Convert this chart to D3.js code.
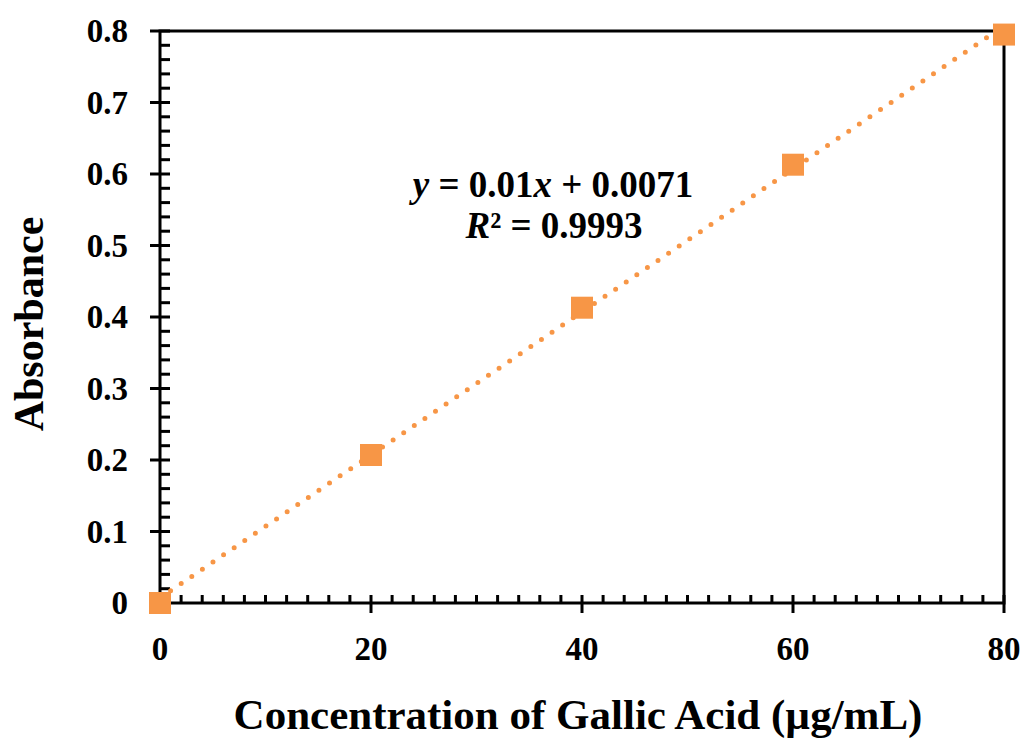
<!DOCTYPE html>
<html>
<head>
<meta charset="utf-8">
<script src="https://cdn.jsdelivr.net/npm/d3@7"></script>
<style>
  body { margin: 0; background: #fff; }
  text { font-family: "Liberation Serif", "Times New Roman", serif; font-weight: bold; }
</style>
</head>
<body>
<div id="chart"></div>
<script>
// data
const concentration = [0, 20, 40, 60, 80];
const absorbance = [0, 0.207, 0.413, 0.613, 0.795];
const xTicks = [0, 20, 40, 60, 80];
const yTicks = [0, 0.1, 0.2, 0.3, 0.4, 0.5, 0.6, 0.7, 0.8];
// trendline from the label
const slope = 0.01;
const intercept = 0.0071;

const width = 1029, height = 740;
const orange = '#F79646';

const svg = d3.select('#chart').append('svg')
  .attr('width', width)
  .attr('height', height);

const x = d3.scaleLinear().domain([0, 80]).range([160, 1004]);
const y = d3.scaleLinear().domain([0, 0.8]).range([603, 31]);

// minor ticks, pointing into the plot
const xMinor = d3.range(0, 81, 2).filter(d => d % 20 !== 0);
const yMinor = d3.range(0, 81, 2).map(d => d / 100).filter((d, i) => i % 5 !== 0);

svg.selectAll('.xminor').data(xMinor).enter().append('line')
  .attr('x1', d => x(d)).attr('x2', d => x(d))
  .attr('y1', y(0)).attr('y2', y(0) - 8)
  .attr('stroke', '#000').attr('stroke-width', 3);

svg.selectAll('.yminor').data(yMinor).enter().append('line')
  .attr('x1', x(0)).attr('x2', x(0) + 10)
  .attr('y1', d => y(d)).attr('y2', d => y(d))
  .attr('stroke', '#000').attr('stroke-width', 3);

// major ticks cross the axis
svg.selectAll('.xmajor').data(xTicks).enter().append('line')
  .attr('x1', d => x(d)).attr('x2', d => x(d))
  .attr('y1', y(0) - 8).attr('y2', y(0) + 10)
  .attr('stroke', '#000').attr('stroke-width', 3);

svg.selectAll('.ymajor').data(yTicks).enter().append('line')
  .attr('x1', x(0) - 10).attr('x2', x(0) + 10)
  .attr('y1', d => y(d)).attr('y2', d => y(d))
  .attr('stroke', '#000').attr('stroke-width', 3);

// frame
svg.append('rect')
  .attr('x', x(0)).attr('y', y(0.8))
  .attr('width', x(80) - x(0)).attr('height', y(0) - y(0.8))
  .attr('fill', 'none').attr('stroke', '#000').attr('stroke-width', 3);

// tick labels
svg.selectAll('.xlab').data(xTicks).enter().append('text')
  .attr('x', d => x(d)).attr('y', 660)
  .attr('text-anchor', 'middle')
  .attr('font-size', 33)
  .text(d => d);

svg.selectAll('.ylab').data(yTicks).enter().append('text')
  .attr('x', 128).attr('y', d => y(d) + 11)
  .attr('text-anchor', 'end')
  .attr('font-size', 33)
  .text(d => d === 0 ? '0' : d.toFixed(1));

// trendline
const trendX = [0, 80];
svg.append('path')
  .datum(trendX)
  .attr('d', d3.line().x(d => x(d)).y(d => y(slope * d + intercept)))
  .attr('fill', 'none')
  .attr('stroke', orange)
  .attr('stroke-width', 5)
  .attr('stroke-linecap', 'round')
  .attr('stroke-dasharray', '0 12.8');

// markers
const size = 22;
svg.selectAll('.pt').data(concentration).enter().append('rect')
  .attr('x', d => x(d) - size / 2)
  .attr('y', (d, i) => y(absorbance[i]) - size / 2)
  .attr('width', size).attr('height', size)
  .attr('fill', orange);

// equation
const eq = svg.append('text')
  .attr('x', 553).attr('y', 197)
  .attr('text-anchor', 'middle')
  .attr('font-size', 37);
eq.append('tspan').attr('font-style', 'italic').text('y');
eq.append('tspan').text(' = 0.01');
eq.append('tspan').attr('font-style', 'italic').text('x');
eq.append('tspan').text(' + 0.0071');

const r2 = svg.append('text')
  .attr('x', 554).attr('y', 238)
  .attr('text-anchor', 'middle')
  .attr('font-size', 37);
r2.append('tspan').attr('font-style', 'italic').text('R');
r2.append('tspan').text('² = 0.9993');

// axis titles
svg.append('text')
  .attr('x', 578).attr('y', 729)
  .attr('text-anchor', 'middle')
  .attr('font-size', 43)
  .text('Concentration of Gallic Acid (µg/mL)');

svg.append('text')
  .attr('transform', 'translate(43,324) rotate(-90)')
  .attr('text-anchor', 'middle')
  .attr('font-size', 42)
  .text('Absorbance');
</script>
</body>
</html>
